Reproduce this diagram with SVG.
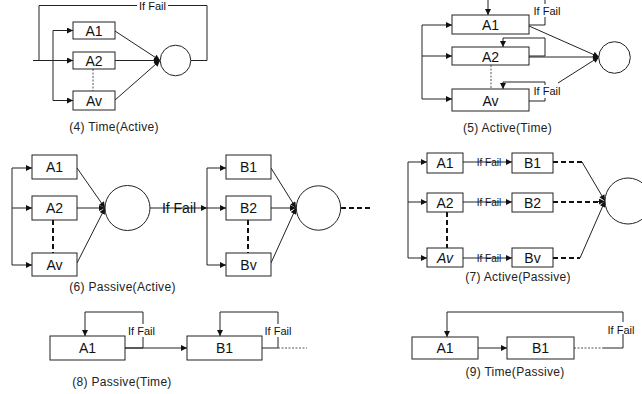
<svg xmlns="http://www.w3.org/2000/svg" width="642" height="394" viewBox="0 0 642 394">
<style>
.box{fill:#fff;stroke:#222;stroke-width:1}
.cir{fill:#fff;stroke:#222;stroke-width:1}
.ln{fill:none;stroke:#222;stroke-width:1}
.dot{fill:none;stroke:#555;stroke-width:1;stroke-dasharray:2,1.5}
.dsh{fill:none;stroke:#111;stroke-width:2;stroke-dasharray:5,3}
.lbl{font-family:"Liberation Sans",Arial,sans-serif;font-size:14px;fill:#111;text-anchor:middle}
.cap{font-family:"Liberation Sans",Arial,sans-serif;font-size:12px;fill:#222;text-anchor:middle;letter-spacing:0.3px}
.ff{font-family:"Liberation Sans",Arial,sans-serif;font-size:11px;fill:#111;text-anchor:middle}
.bg{fill:#fff;stroke:none}
</style>
<defs>
<marker id="ah" viewBox="0 0 10 10" refX="10" refY="5" markerWidth="7" markerHeight="6" markerUnits="userSpaceOnUse" orient="auto"><path d="M0,0 L10,5 L0,10z" fill="#111"/></marker>
</defs>
<rect width="642" height="394" fill="#fff"/>

<g id="connectors">
<!-- panel 4 -->
<path class="ln" d="M33,60.5 H73" marker-end="url(#ah)"/>
<path class="ln" d="M39,60.5 V5.5 H207 V60.5 H190.5"/>
<path class="ln" d="M53,30.5 V100.5"/>
<path class="ln" d="M53,30.5 H73" marker-end="url(#ah)"/>
<path class="ln" d="M53,100.5 H73" marker-end="url(#ah)"/>
<path class="ln" d="M115,31 L160,60.5" marker-end="url(#ah)"/>
<path class="ln" d="M115,60.5 L160,60.5" marker-end="url(#ah)"/>
<path class="ln" d="M115,100 L160,60.5" marker-end="url(#ah)"/>
<path class="dot" d="M93,69 V91"/>
<!-- panel 5 -->
<path class="ln" d="M488,0 V15" marker-end="url(#ah)"/>
<path class="ln" d="M529,25 H545 V0"/>
<path class="ln" d="M422,25 V99"/>
<path class="ln" d="M422,25 H452" marker-end="url(#ah)"/>
<path class="ln" d="M422,56 H452" marker-end="url(#ah)"/>
<path class="ln" d="M422,99 H452" marker-end="url(#ah)"/>
<path class="ln" d="M529,56 H545 V38 H503 V47" marker-end="url(#ah)"/>
<path class="ln" d="M529,101 H545 V82 H503 V89" marker-end="url(#ah)"/>
<path class="ln" d="M529,26 L599,57" marker-end="url(#ah)"/>
<path class="ln" d="M529,57 L599,57" marker-end="url(#ah)"/>
<path class="ln" d="M558,83 L599,57" marker-end="url(#ah)"/>
<path class="dot" d="M491,65 V89"/>
<!-- panel 6 -->
<path class="ln" d="M12,168 V265"/>
<path class="ln" d="M12,168 H32" marker-end="url(#ah)"/>
<path class="ln" d="M12,208 H32" marker-end="url(#ah)"/>
<path class="ln" d="M12,265 H32" marker-end="url(#ah)"/>
<path class="ln" d="M77,168 L105,208" marker-end="url(#ah)"/>
<path class="ln" d="M77,208 L105,208" marker-end="url(#ah)"/>
<path class="ln" d="M77,263 L105,208" marker-end="url(#ah)"/>
<path class="dsh" d="M53,220 V253"/>
<path class="ln" d="M150,208 H207" marker-end="url(#ah)"/>
<path class="ln" d="M207,168 V265"/>
<path class="ln" d="M207,168 H226" marker-end="url(#ah)"/>
<path class="ln" d="M207,208 H226" marker-end="url(#ah)"/>
<path class="ln" d="M207,265 H226" marker-end="url(#ah)"/>
<path class="ln" d="M271,168 L296,208" marker-end="url(#ah)"/>
<path class="ln" d="M271,208 L296,208" marker-end="url(#ah)"/>
<path class="ln" d="M271,263 L296,208" marker-end="url(#ah)"/>
<path class="dsh" d="M248,220 V253"/>
<path class="dsh" d="M341,208 H373"/>
<!-- panel 7 -->
<path class="ln" d="M408,162 V258"/>
<path class="ln" d="M408,162 H427" marker-end="url(#ah)"/>
<path class="ln" d="M408,202 H427" marker-end="url(#ah)"/>
<path class="ln" d="M408,258 H427" marker-end="url(#ah)"/>
<path class="ln" d="M463,162 H512" marker-end="url(#ah)"/>
<path class="ln" d="M463,202 H512" marker-end="url(#ah)"/>
<path class="ln" d="M463,258 H512" marker-end="url(#ah)"/>
<path class="dsh" d="M447,212 V248"/>
<path class="dsh" d="M553,162 H582"/>
<path class="ln" d="M582,162 L605,201" marker-end="url(#ah)"/>
<path class="dsh" d="M553,202 H600"/>
<path class="ln" d="M598,201.5 H605" marker-end="url(#ah)"/>
<path class="dsh" d="M553,258 H580"/>
<path class="ln" d="M580,258 L605,201" marker-end="url(#ah)"/>
<!-- panel 8 -->
<path class="ln" d="M125,348 H143 V312 H85 V336" marker-end="url(#ah)"/>
<path class="ln" d="M125,348 H187" marker-end="url(#ah)"/>
<path class="ln" d="M262,348 H278 V312 H220 V336" marker-end="url(#ah)"/>
<path class="dot" d="M278,348 H307"/>
<!-- panel 9 -->
<path class="ln" d="M478,348 H507" marker-end="url(#ah)"/>
<path class="dot" d="M574,348 H603"/>
<path class="ln" d="M603,348 H623 V312 H447 V337" marker-end="url(#ah)"/>
</g>

<!-- If Fail labels -->
<g id="labels">
<rect class="bg" x="137" y="0" width="31" height="11"/>
<text class="ff" x="152.5" y="9.5">If Fail</text>
<rect class="bg" x="532" y="4" width="29" height="13"/>
<text class="ff" x="547" y="14.5">If Fail</text>
<rect class="bg" x="532" y="85" width="29" height="13"/>
<text class="ff" x="547" y="95">If Fail</text>
<text class="lbl" x="179" y="213">If Fail</text>
<text class="ff" x="489" y="165.5" style="font-size:10px">If Fail</text>
<text class="ff" x="489" y="205.5" style="font-size:10px">If Fail</text>
<text class="ff" x="489" y="261.5" style="font-size:10px">If Fail</text>
<rect class="bg" x="127" y="324" width="29" height="13"/>
<text class="ff" x="141.5" y="334.5">If Fail</text>
<rect class="bg" x="263" y="324" width="30" height="13"/>
<text class="ff" x="278" y="334.5">If Fail</text>
<rect class="bg" x="606" y="322" width="30" height="12"/>
<text class="ff" x="621" y="333.5">If Fail</text>
</g>

<g id="p4-A1"><rect class="box" x="73" y="22" width="42" height="17"/><text class="lbl" x="94" y="35.5">A1</text></g>
<g id="p4-A2"><rect class="box" x="73" y="52" width="42" height="17"/><text class="lbl" x="94" y="65.5">A2</text></g>
<g id="p4-Av"><rect class="box" x="73" y="91" width="42" height="19"/><text class="lbl" x="94" y="105.5">Av</text></g>
<g id="p4-C"><circle class="cir" cx="175.5" cy="60.5" r="15.3"/></g>
<text class="cap" x="114" y="131">(4) Time(Active)</text>

<g id="p5-A1"><rect class="box" x="452" y="15" width="77" height="19"/><text class="lbl" x="490.5" y="30">A1</text></g>
<g id="p5-A2"><rect class="box" x="452" y="47" width="77" height="18"/><text class="lbl" x="490.5" y="61.5">A2</text></g>
<g id="p5-Av"><rect class="box" x="452" y="89" width="77" height="22"/><text class="lbl" x="490.5" y="105.5">Av</text></g>
<g id="p5-C"><circle class="cir" cx="614.5" cy="57.5" r="15.8"/></g>
<text class="cap" x="507.5" y="132">(5) Active(Time)</text>

<g id="p6-A1"><rect class="box" x="32" y="155" width="45" height="24"/><text class="lbl" x="54.5" y="172">A1</text></g>
<g id="p6-A2"><rect class="box" x="32" y="196" width="45" height="24"/><text class="lbl" x="54.5" y="213">A2</text></g>
<g id="p6-Av"><rect class="box" x="32" y="253" width="45" height="23"/><text class="lbl" x="54.5" y="269.5">Av</text></g>
<g id="p6-C1"><circle class="cir" cx="127.5" cy="208" r="22.5"/></g>
<g id="p6-B1"><rect class="box" x="226" y="155" width="45" height="24"/><text class="lbl" x="248.5" y="172">B1</text></g>
<g id="p6-B2"><rect class="box" x="226" y="196" width="45" height="24"/><text class="lbl" x="248.5" y="213">B2</text></g>
<g id="p6-Bv"><rect class="box" x="226" y="253" width="45" height="23"/><text class="lbl" x="248.5" y="269.5">Bv</text></g>
<g id="p6-C2"><circle class="cir" cx="318.5" cy="208" r="22.2"/></g>
<text class="cap" x="122.5" y="291">(6) Passive(Active)</text>

<g id="p7-A1"><rect class="box" x="427" y="153" width="36" height="20"/><text class="lbl" x="445" y="168">A1</text></g>
<g id="p7-A2"><rect class="box" x="427" y="193" width="36" height="19"/><text class="lbl" x="445" y="207.5">A2</text></g>
<g id="p7-Av"><rect class="box" x="427" y="248" width="36" height="19"/><text class="lbl" x="445" y="262.5" font-style="italic">Av</text></g>
<g id="p7-B1"><rect class="box" x="512" y="153" width="41" height="20"/><text class="lbl" x="532.5" y="168">B1</text></g>
<g id="p7-B2"><rect class="box" x="512" y="193" width="41" height="19"/><text class="lbl" x="532.5" y="207.5">B2</text></g>
<g id="p7-Bv"><rect class="box" x="512" y="248" width="41" height="19"/><text class="lbl" x="532.5" y="262.5">Bv</text></g>
<g id="p7-C"><circle class="cir" cx="628" cy="201" r="23"/></g>
<text class="cap" x="518" y="281">(7) Active(Passive)</text>

<g id="p8-A1"><rect class="box" x="50" y="336" width="75" height="24"/><text class="lbl" x="87.5" y="353">A1</text></g>
<g id="p8-B1"><rect class="box" x="187" y="336" width="75" height="24"/><text class="lbl" x="224.5" y="353">B1</text></g>
<text class="cap" x="122" y="386">(8) Passive(Time)</text>

<g id="p9-A1"><rect class="box" x="412" y="337" width="66" height="22"/><text class="lbl" x="445" y="353">A1</text></g>
<g id="p9-B1"><rect class="box" x="507" y="337" width="67" height="22"/><text class="lbl" x="540.5" y="353">B1</text></g>
<text class="cap" x="515" y="376">(9) Time(Passive)</text>
</svg>
